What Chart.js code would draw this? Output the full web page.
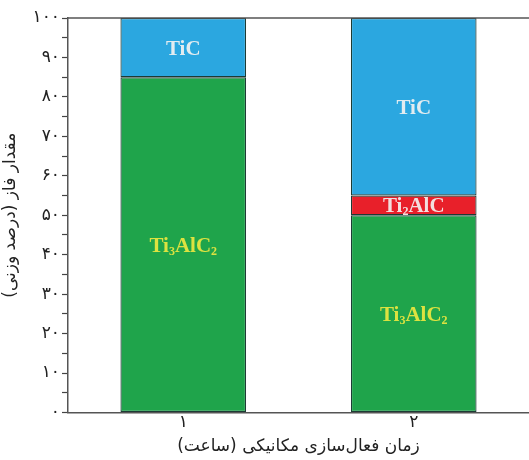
<!DOCTYPE html>
<html>
<head>
<meta charset="utf-8">
<script src="https://cdn.jsdelivr.net/npm/chart.js@4/dist/chart.umd.min.js"></script>
<style>
  html, body { margin: 0; padding: 0; background: #fff; overflow: hidden; }
  #wrap { width: 529px; height: 460px; position: relative; }
</style>
</head>
<body>
<div id="wrap"><canvas id="c" width="529" height="460"></canvas></div>
<script>
// Activation time (hours) and phase fractions (wt%)
const categories = ['۱', '۲'];
const ti3alc2 = [85, 50];
const ti2alc = [null, 5];
const tic = [15, 45];

// Phase labels: [text, isSubscript] pieces
const phaseLabels = {
  Ti3AlC2: [['Ti', false], ['3', true], ['AlC', false], ['2', true]],
  Ti2AlC: [['Ti', false], ['2', true], ['AlC', false]],
  TiC: [['TiC', false]]
};

const persianDigits = '۰۱۲۳۴۵۶۷۸۹';
function toPersian(n) {
  return String(n).replace(/[0-9]/g, d => persianDigits[d]);
}

const edge = '#1d3b34';

// Draws the phase name in the middle of each stacked segment
const segmentLabels = {
  id: 'segmentLabels',
  afterDatasetsDraw(chart) {
    const ctx = chart.ctx;
    chart.data.datasets.forEach((ds, i) => {
      const meta = chart.getDatasetMeta(i);
      const parts = phaseLabels[ds.label];
      meta.data.forEach((el, j) => {
        if (ds.data[j] == null) return;
        const {x, y, base} = el.getProps(['x', 'y', 'base'], true);
        const cy = (y + base) / 2;
        const big = 'bold 21px "Liberation Serif", "DejaVu Serif", serif';
        const small = 'bold 12px "Liberation Serif", "DejaVu Serif", serif';
        ctx.save();
        let w = 0;
        parts.forEach(([t, sub]) => { ctx.font = sub ? small : big; w += ctx.measureText(t).width; });
        let cx = x - w / 2;
        ctx.fillStyle = ds.labelColor;
        ctx.textBaseline = 'alphabetic';
        ctx.textAlign = 'left';
        parts.forEach(([t, sub]) => {
          ctx.font = sub ? small : big;
          ctx.fillText(t, cx, sub ? cy + 10 : cy + 7);
          cx += ctx.measureText(t).width;
        });
        ctx.restore();
      });
    });
  }
};

// Frame line along the top of the plot area
const topLine = {
  id: 'topLine',
  afterDraw(chart) {
    const {ctx, chartArea} = chart;
    ctx.save();
    ctx.strokeStyle = '#555';
    ctx.lineWidth = 1.5;
    ctx.beginPath();
    ctx.moveTo(chartArea.left, chartArea.top);
    ctx.lineTo(chart.width, chartArea.top);
    ctx.stroke();
    ctx.restore();
  }
};

new Chart(document.getElementById('c'), {
  type: 'bar',
  data: {
    labels: categories,
    datasets: [
      { label: 'Ti3AlC2', data: ti3alc2, backgroundColor: '#1fa44b', labelColor: '#dde240' },
      { label: 'Ti2AlC', data: ti2alc, backgroundColor: '#e8202a', labelColor: '#f3dede' },
      { label: 'TiC', data: tic, backgroundColor: '#2ba7e0', labelColor: '#e2ecf0' }
    ].map(d => Object.assign(d, {
      borderColor: edge,
      borderWidth: 1.2,
      borderSkipped: false,
      barPercentage: 0.545,
      categoryPercentage: 1
    }))
  },
  options: {
    responsive: false,
    animation: false,
    layout: { padding: { top: 18, right: 0, left: 0, bottom: 0 } },
    plugins: { legend: { display: false }, tooltip: { enabled: false } },
    scales: {
      x: {
        stacked: true,
        afterFit(s) { s.height = 47.5; },
        grid: { display: false, drawTicks: false },
        border: { color: '#555', width: 1.5 },
        ticks: { color: '#222', font: { family: '"DejaVu Sans", sans-serif', size: 17 }, padding: 0 },
        title: {
          display: true,
          text: 'زمان فعال‌سازی مکانیکی (ساعت)',
          color: '#222',
          font: { family: '"DejaVu Sans", sans-serif', size: 17 },
          padding: { top: 0, bottom: 3 }
        }
      },
      y: {
        stacked: true,
        min: 0,
        max: 100,
        afterFit(s) { s.width = 68; },
        grid: { drawOnChartArea: false, tickLength: 6, color: '#444', tickWidth: 1.2 },
        border: { color: '#555', width: 1.5 },
        ticks: {
          stepSize: 5,
          autoSkip: false,
          padding: 2,
          color: '#222',
          font: { family: '"DejaVu Sans", sans-serif', size: 17 },
          callback: v => (v % 10 === 0 ? toPersian(v) : '')
        },
        title: {
          display: true,
          text: 'مقدار فاز (درصد وزنی)',
          color: '#222',
          font: { family: '"DejaVu Sans", sans-serif', size: 17 },
          padding: { top: 0, bottom: 0 }
        }
      }
    }
  },
  plugins: [segmentLabels, topLine]
});
</script>
</body>
</html>
